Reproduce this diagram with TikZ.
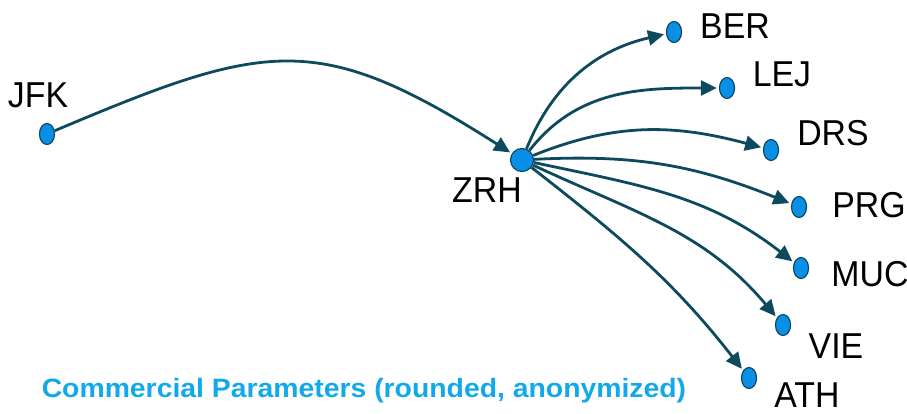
\documentclass[tikz,border=0pt]{standalone}
\usepackage{fontspec}
\setmainfont{Liberation Sans}
\usetikzlibrary{arrows.meta,shapes.geometric}
\definecolor{edgec}{HTML}{0D4A5E}
\definecolor{dotc}{HTML}{0A8FE6}
\definecolor{titlec}{HTML}{12A9EA}
\newcommand{\apt}[1]{\scalebox{0.94}[1]{#1}}
\tikzset{
  airport/.style={ellipse, draw=edgec, line width=1.2pt, fill=dotc, minimum width=15pt, minimum height=21pt, inner sep=0pt},
  hub/.style={circle, draw=edgec, line width=1.2pt, fill=dotc, minimum size=23pt, inner sep=0pt},
  lbl/.style={font=\fontsize{36}{36}\selectfont, inner sep=0pt, anchor=center},
  route/.style={draw=edgec, line width=2.8pt, -{Triangle[length=16pt,width=15pt]}, shorten >=2pt},
}
\begin{document}
\begin{tikzpicture}[x=1pt,y=-1pt]
\useasboundingbox (0,0) rectangle (907,414);
% airports
\node[airport] (jfk) at (47,134) {};
\node[hub] (zrh) at (522,160) {};
\node[airport] (ber) at (674,32) {};
\node[airport] (lej) at (727,88) {};
\node[airport] (drs) at (771,150) {};
\node[airport] (prg) at (799,207) {};
\node[airport] (muc) at (801,268) {};
\node[airport] (vie) at (783,325) {};
\node[airport] (ath) at (749,378) {};
% labels
\node[lbl] (ljfk) at (38,95) {\apt{JFK}};
\node[lbl] (lzrh) at (487,190) {\apt{ZRH}};
\node[lbl] (lber) at (735,26) {\apt{BER}};
\node[lbl] (llej) at (782,74) {\apt{LEJ}};
\node[lbl] (ldrs) at (833,133) {\apt{DRS}};
\node[lbl] (lprg) at (869,205) {\apt{PRG}};
\node[lbl] (lmuc) at (870,274) {\apt{MUC}};
\node[lbl] (lvie) at (836,346) {\apt{VIE}};
\node[lbl] (lath) at (807,395) {\apt{ATH}};
% title
\node[inner sep=0pt, anchor=base, text=titlec, font=\bfseries\fontsize{26.5}{26.5}\selectfont] (title) at (364,397) {\scalebox{1.07}[1]{Commercial Parameters (rounded, anonymized)}};
% routes
\draw[route] (jfk) .. controls (267,41) and (318,30) .. (zrh);
\draw[route] (zrh) to[out=68,in=193] (ber);
\draw[route] (zrh) to[out=52,in=180] (lej);
\draw[route] (zrh) to[out=22,in=165] (drs);
\draw[route] (zrh) to[out=3,in=158] (prg);
\draw[route] (zrh) to[out=-12,in=142] (muc);
\draw[route] (zrh) to[out=-25,in=130] (vie);
\draw[route] (zrh) to[out=-38,in=128] (ath);
\end{tikzpicture}
\end{document}
